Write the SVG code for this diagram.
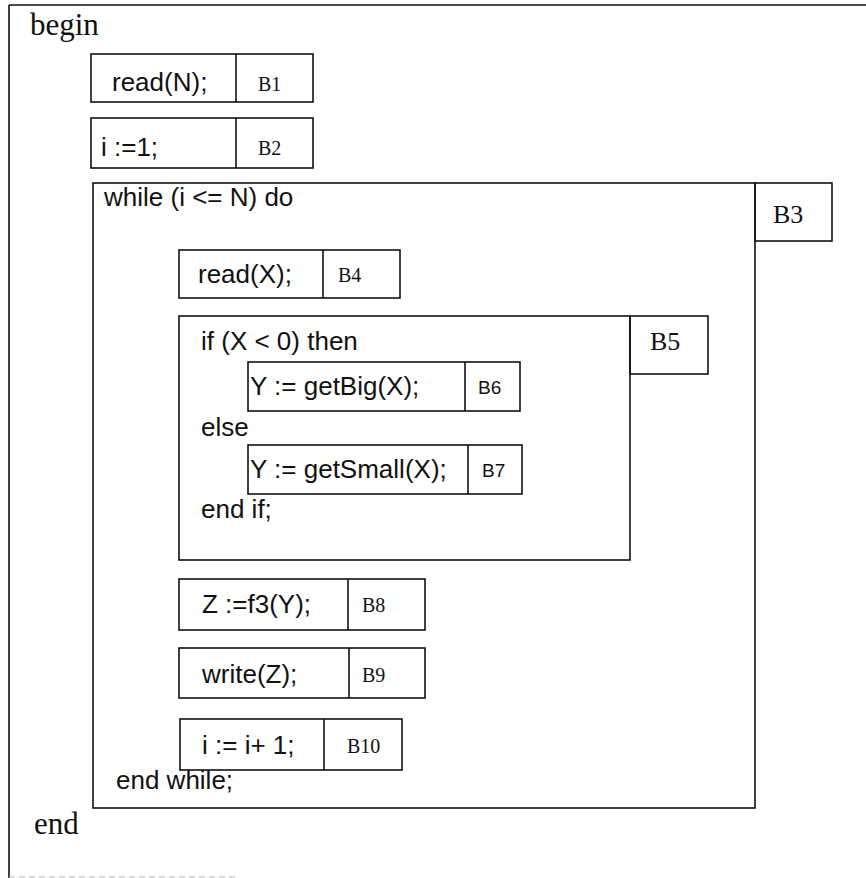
<svg xmlns="http://www.w3.org/2000/svg" width="866" height="878" viewBox="0 0 866 878">
<style>
.box{fill:none;stroke:#111;stroke-width:1.6}
.code{font-family:"Liberation Sans",Arial,sans-serif;font-size:26px;fill:#111}
.lab{font-family:"Liberation Serif","Times New Roman",serif;font-size:20px;fill:#111}
.labL{font-family:"Liberation Serif","Times New Roman",serif;font-size:26px;fill:#111}
.labS{font-family:"Liberation Sans",Arial,sans-serif;font-size:19px;fill:#111}
.kw{font-family:"Liberation Serif","Times New Roman",serif;font-size:31px;fill:#111}
</style>
<rect width="866" height="878" fill="#fff"/>
<g id="frame">
<path d="M9,5 H866 M9,5 V878" class="box"/>
<path d="M9,877 H235" stroke="#bbb" stroke-width="1" stroke-dasharray="6 4" fill="none"/>
<text class="kw" x="30" y="35">begin</text>
<text class="kw" x="34" y="834">end</text>
</g>
<g id="B1">
<rect class="box" x="91" y="54" width="222" height="48"/>
<line class="box" x1="236" y1="54" x2="236" y2="102"/>
<text class="code" x="112" y="91">read(N);</text>
<text class="lab" x="258" y="91">B1</text>
</g>
<g id="B2">
<rect class="box" x="91" y="118" width="222" height="50"/>
<line class="box" x1="236" y1="118" x2="236" y2="168"/>
<text class="code" x="101" y="156">i :=1;</text>
<text class="lab" x="258" y="155">B2</text>
</g>
<g id="B3">
<rect class="box" x="93" y="183" width="662" height="625"/>
<rect class="box" x="755" y="183" width="77" height="58"/>
<text class="code" x="104" y="206">while (i &lt;= N) do</text>
<text class="labL" x="773" y="223">B3</text>
<text class="code" x="116" y="789">end while;</text>
</g>
<g id="B4">
<rect class="box" x="179" y="250" width="221" height="48"/>
<line class="box" x1="323" y1="250" x2="323" y2="298"/>
<text class="code" x="198" y="283">read(X);</text>
<text class="lab" x="338" y="282">B4</text>
</g>
<g id="B5">
<rect class="box" x="179" y="316" width="451" height="244"/>
<rect class="box" x="630" y="316" width="78" height="58"/>
<text class="code" x="201" y="350">if (X &lt; 0) then</text>
<text class="code" x="201" y="436">else</text>
<text class="code" x="201" y="518">end if;</text>
<text class="labL" x="650" y="350">B5</text>
</g>
<g id="B6">
<rect class="box" x="248" y="362" width="272" height="49"/>
<line class="box" x1="465" y1="362" x2="465" y2="411"/>
<text class="code" x="250" y="395">Y := getBig(X);</text>
<text class="labS" x="478" y="394">B6</text>
</g>
<g id="B7">
<rect class="box" x="248" y="445" width="274" height="49"/>
<line class="box" x1="468" y1="445" x2="468" y2="494"/>
<text class="code" x="250" y="478">Y := getSmall(X);</text>
<text class="labS" x="482" y="477">B7</text>
</g>
<g id="B8">
<rect class="box" x="179" y="579" width="246" height="51"/>
<line class="box" x1="348" y1="579" x2="348" y2="630"/>
<text class="code" x="202" y="613">Z :=f3(Y);</text>
<text class="lab" x="362" y="612">B8</text>
</g>
<g id="B9">
<rect class="box" x="179" y="648" width="246" height="50"/>
<line class="box" x1="349" y1="648" x2="349" y2="698"/>
<text class="code" x="202" y="683">write(Z);</text>
<text class="lab" x="362" y="682">B9</text>
</g>
<g id="B10">
<rect class="box" x="180" y="719" width="222" height="51"/>
<line class="box" x1="324" y1="719" x2="324" y2="770"/>
<text class="code" x="202" y="754">i := i+ 1;</text>
<text class="lab" x="347" y="753">B10</text>
</g>
<g id="connectors"></g>
</svg>
